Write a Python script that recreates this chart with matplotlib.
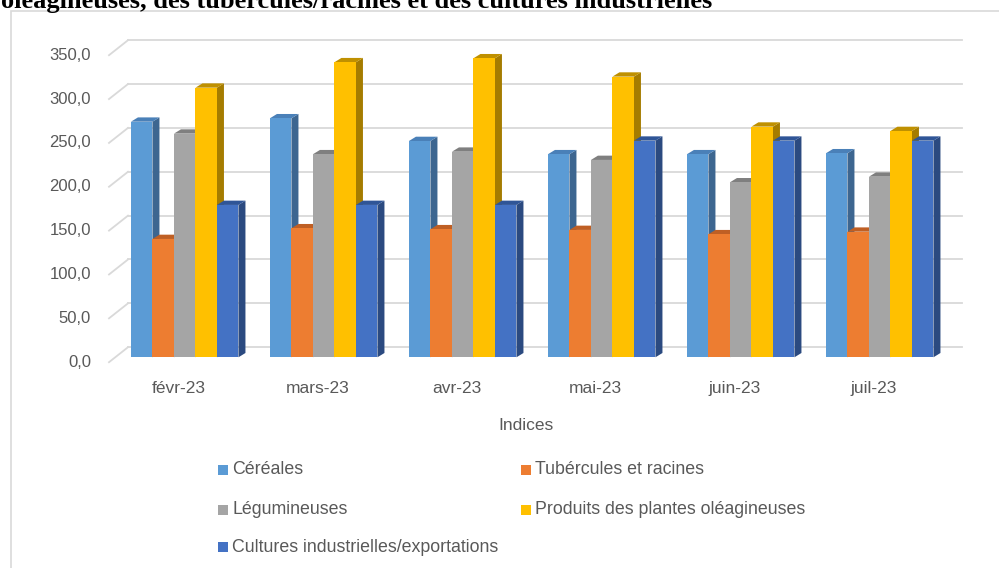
import matplotlib
matplotlib.use("Agg")
import matplotlib.pyplot as plt
from matplotlib.patches import Polygon, Rectangle

# ------------------------------------------------------------
# Data
# ------------------------------------------------------------
months = ["févr-23", "mars-23", "avr-23", "mai-23", "juin-23", "juil-23"]
series_names = [
    "Céréales",
    "Tubércules et racines",
    "Légumineuses",
    "Produits des plantes oléagineuses",
    "Cultures industrielles/exportations",
]
cereales = [268.6, 272.5, 246.6, 231.5, 231.5, 232.6]
tubercules = [134.9, 147.1, 146.0, 145.2, 140.3, 143.2]
legumineuses = [255.0, 231.5, 234.4, 225.0, 199.5, 205.9]
oleagineuses = [307.4, 336.4, 340.9, 320.0, 263.0, 258.0]
industrielles = [173.7, 173.7, 173.7, 247.0, 247.0, 247.0]
y_ticks = [0, 50, 100, 150, 200, 250, 300, 350]
title = "oléagineuses, des tubercules/racines et des cultures industrielles"

series_values = [cereales, tubercules, legumineuses, oleagineuses, industrielles]
front_colors = ["#5B9BD5", "#ED7D31", "#A5A5A5", "#FFC000", "#4472C4"]
top_colors = ["#4A80B8", "#BF5F24", "#7F7F7F", "#BF9000", "#2F5597"]
side_colors = ["#3D6690", "#A9561E", "#737373", "#A57C00", "#2B4A80"]

W, H = 999, 568
fig = plt.figure(figsize=(W / 100, H / 100), dpi=100)
fig.patch.set_facecolor("white")

# chart frame
fig.patches.append(Rectangle((11 / W, -0.1), 1.2, (H - 11) / H + 0.1,
                             transform=fig.transFigure, fill=False,
                             edgecolor="#D9D9D9", linewidth=1.2))

# axes = plane of the bar fronts
ax = fig.add_axes([115.2 / W, (H - 357.3) / H, 834 / W, 307 / H])
ax.set_xlim(-0.5, len(months) - 0.5)
ax.set_ylim(0, 350)
ax.axis("off")

p0 = ax.transData.transform((0, 0))
p1 = ax.transData.transform((1, 1))
px_x = p1[0] - p0[0]
px_y = p1[1] - p0[1]


def off(x, y, dx_px, dy_px):
    return (x + dx_px / px_x, y + dy_px / px_y)


BACK = (12.8, 10.1)
FRONT = (-6.2, -4.9)
DEPTH = (7.0, 4.3)
grid_c = "#D9D9D9"
text_c = "#595959"

# back wall grid + side wall diagonals
x_lo, x_hi = -0.5, len(months) - 0.5
for v in y_ticks:
    a = off(x_lo, v, *BACK)
    b = off(x_hi, v, *BACK)
    c = off(x_lo, v, *FRONT)
    ax.plot([a[0], b[0]], [a[1], b[1]], color=grid_c, lw=1.3, clip_on=False, zorder=1)
    ax.plot([c[0], a[0]], [c[1], a[1]], color=grid_c, lw=1.3, clip_on=False, zorder=1)
    ax.text(c[0] - 18 / px_x, c[1], f"{v:.1f}".replace(".", ","), ha="right", va="center",
            fontsize=12, color=text_c, family="Liberation Sans")

# 3D-looking bars
bw = 21.5 / px_x
n = len(series_values)
z = 2
for i in range(len(months)):
    for k in range(n):
        v = series_values[k][i]
        xl = i + (k - n / 2) * bw
        xr = xl + bw
        side = [(xr, 0), off(xr, 0, *DEPTH), off(xr, v, *DEPTH), (xr, v)]
        top = [(xl, v), off(xl, v, *DEPTH), off(xr, v, *DEPTH), (xr, v)]
        ax.add_patch(Polygon(side, closed=True, facecolor=side_colors[k],
                             edgecolor="none", clip_on=False, zorder=z))
        ax.add_patch(Polygon(top, closed=True, facecolor=top_colors[k],
                             edgecolor="none", clip_on=False, zorder=z))
        ax.bar(xl, v, width=bw, align="edge", color=front_colors[k],
               linewidth=0, clip_on=False, zorder=z + 0.5)
        z += 1

# category labels
for i, m in enumerate(months):
    c = off(i, 0, *FRONT)
    ax.text(c[0], c[1] - 26 / px_y, m, ha="center", va="center",
            fontsize=12.5, color=text_c, family="Liberation Sans")

fig.text(526 / W, 1 - 426 / H, "Indices", ha="center", va="center",
         fontsize=12.5, color=text_c, family="Liberation Sans")

# legend (row-major, two columns)
leg_pos = [(218, 470), (521, 470), (218, 510), (521, 510), (218, 547)]
for (lx, ly), name, col in zip(leg_pos, series_names, front_colors):
    fig.patches.append(Rectangle((lx / W, 1 - (ly + 5) / H), 10 / W, 10 / H,
                                 transform=fig.transFigure, facecolor=col,
                                 edgecolor="none"))
    fig.text((lx + 14) / W, 1 - ly / H, name, ha="left", va="center",
             fontsize=12.8, color=text_c, family="Liberation Sans")

# cut-off title from the page above (as in the reference)
fig.text(1 / W, 1 - 8 / H, title, ha="left", va="baseline", fontsize=19,
         fontweight="bold", family="Liberation Serif", color="black")

fig.savefig("out.png", dpi=100)
